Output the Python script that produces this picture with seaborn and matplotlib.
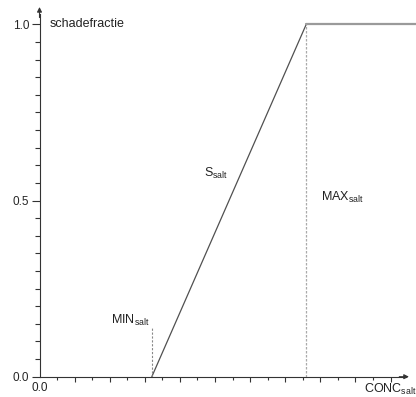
import matplotlib
matplotlib.use("Agg")
import matplotlib.pyplot as plt
import seaborn as sns
import pandas as pd
import numpy as np

# data (x in axis tick units)
conc = [6.4, 15.2, 21.6]
frac = [0.0, 1.0, 1.0]
min_salt = 6.4
max_salt = 15.2
y_ticks = [0.0, 0.5, 1.0]
y_tick_labels = ["0.0", "0.5", "1.0"]

sns.set_theme(style="white")
plt.rcParams['font.family'] = ['Liberation Sans', 'DejaVu Sans']
plt.rcParams['mathtext.fontset'] = 'custom'
plt.rcParams['mathtext.rm'] = 'Liberation Sans'
plt.rcParams['mathtext.it'] = 'Liberation Sans'

fig = plt.figure(figsize=(4.16, 3.97), dpi=100)
W, H = 416, 397
x0, x1 = 39.5, 416
y0, y1 = 376.7, 7
ax = fig.add_axes([x0 / W, (H - y0) / H, (x1 - x0) / W, (y0 - y1) / H])

xmax = (x1 - x0) / 17.55
ymax = (y0 - y1) / 352.4
ax.set_xlim(0, xmax)
ax.set_ylim(0, ymax)

df = pd.DataFrame({"conc": conc, "frac": frac})
# slope
sns.lineplot(data=df.iloc[:2], x="conc", y="frac", ax=ax, color="#505050", lw=0.9)
# plateau
sns.lineplot(data=df.iloc[1:], x="conc", y="frac", ax=ax, color="#9a9a9a", lw=1.6)

# dashed markers
ax.plot([min_salt, min_salt], [0, 0.142], color="#888888", lw=0.8, ls=(0, (2, 1.5)))
ax.plot([max_salt, max_salt], [0, 1.0], color="#aaaaaa", lw=0.9, ls=(0, (2, 1.2)))

for s in ["top", "right"]:
    ax.spines[s].set_visible(False)
for s in ["left", "bottom"]:
    ax.spines[s].set_color("#333333")
    ax.spines[s].set_linewidth(0.8)
ax.spines["bottom"].set_bounds(0, 20.9)
ax.spines["left"].set_bounds(0, ymax - 0.02)

# arrows
ax.annotate("", xy=(21.05, 0), xytext=(20.5, 0),
            arrowprops=dict(arrowstyle="-|>", color="#333333", lw=0.8,
                            mutation_scale=7, shrinkA=0, shrinkB=0),
            annotation_clip=False)
ax.annotate("", xy=(0, ymax), xytext=(0, ymax - 0.03),
            arrowprops=dict(arrowstyle="-|>", color="#333333", lw=0.8,
                            mutation_scale=7, shrinkA=0, shrinkB=0),
            annotation_clip=False)

# ticks
ax.set_xticks(np.arange(2, 21, 2))
ax.set_xticks(np.arange(1, 21, 2), minor=True)
ax.set_xticklabels([])
ax.set_yticks(y_ticks)
ax.set_yticklabels(y_tick_labels, fontsize=8.5)
ax.set_yticks(np.arange(0.05, 1.0, 0.05), minor=True)
ax.tick_params(axis="x", which="major", direction="out", length=3.8, width=0.8, color="#333333", bottom=True)
ax.tick_params(axis="x", which="minor", direction="out", length=2.2, width=0.8, color="#333333", bottom=True)
ax.tick_params(axis="y", which="major", direction="out", length=5.5, width=0.8, color="#333333", left=True, pad=2)
ax.tick_params(axis="y", which="minor", direction="out", length=3.6, width=0.8, color="#333333", left=True)
ax.set_xlabel("")
ax.set_ylabel("")

# texts
ax.text(0, -0.015, "0.0", ha="center", va="top", fontsize=8.5, color="#222222")
ax.text(21.5, -0.015, r"CONC$_{\mathrm{salt}}$", ha="right", va="top", fontsize=9, color="#222222")
ax.text(0.6, 1.0, "schadefractie", ha="left", va="center", fontsize=9, color="#222222")
ax.text(9.4, 0.578, r"S$_{\mathrm{salt}}$", ha="left", va="center", fontsize=9, color="#222222")
ax.text(16.05, 0.51, r"MAX$_{\mathrm{salt}}$", ha="left", va="center", fontsize=9, color="#222222")
ax.text(4.05, 0.16, r"MIN$_{\mathrm{salt}}$", ha="left", va="center", fontsize=9, color="#222222")

fig.savefig("out.png", dpi=100)
